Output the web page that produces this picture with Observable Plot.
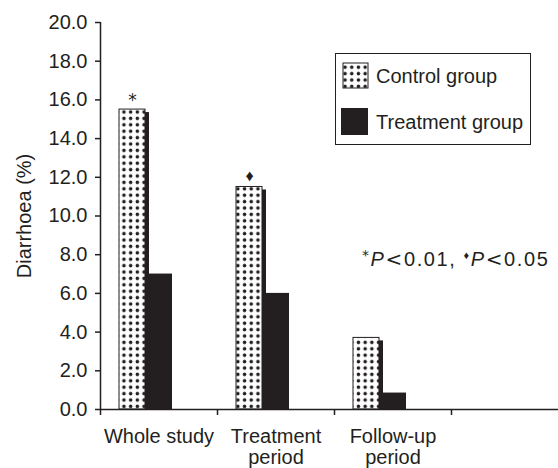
<!DOCTYPE html>
<html>
<head>
<meta charset="utf-8">
<script src="https://cdn.jsdelivr.net/npm/d3@7"></script>
<script src="https://cdn.jsdelivr.net/npm/@observablehq/plot@0.6"></script>
<style>
  html, body { margin: 0; padding: 0; background: #fff; }
  svg { display: block; }
</style>
</head>
<body>
<div id="chart"></div>
<script>
const categories = ["Whole study", "Treatment period", "Follow-up period", "(empty)"];
const categoryLabels = ["Whole study", "Treatment\nperiod", "Follow-up\nperiod", ""];
const controlValues = [15.5, 11.5, 3.7];
const treatmentValues = [7.0, 6.0, 0.85];
const seriesNames = ["Control group", "Treatment group"];
const yTicks = [0, 2, 4, 6, 8, 10, 12, 14, 16, 18, 20];
const significance = [
  {category: "Whole study", value: 15.5, mark: "*"},
  {category: "Treatment period", value: 11.5, mark: "\u2666"}
];
const yLabel = "Diarrhoea (%)";

const INK = "#231f20";
const FONT = "Liberation Sans, Arial, Helvetica, sans-serif";
const FS = 20;

const control = controlValues.map((v, i) => ({category: categories[i], value: v}));
const treatment = treatmentValues.map((v, i) => ({category: categories[i], value: v}));
const labelOf = new Map(categories.map((c, i) => [c, categoryLabels[i]]));

const W = 558, H = 468;
const mL = 100, mT = 22, mB = 59;
const band = 117;
const mR = W - (mL + band * categories.length);

const ctrlInset = {insetLeft: 19, insetRight: band - 19 - 26};
const trtInset = {insetLeft: 45, insetRight: band - 45 - 27};

const plot = Plot.plot({
  width: W,
  height: H,
  marginLeft: mL,
  marginRight: mR,
  marginTop: mT,
  marginBottom: mB,
  style: {fontFamily: FONT, fontSize: FS + "px", color: INK, background: "white"},
  x: {type: "band", domain: categories, paddingInner: 0, paddingOuter: 0, axis: null},
  y: {domain: [0, 20], axis: null},
  marks: [
    Plot.barY(control, {x: "category", y1: 0, y2: "value", fill: INK, dx: 4, insetTop: 3, ...ctrlInset}),
    Plot.barY(treatment, {x: "category", y1: 0, y2: "value", fill: INK, ...trtInset}),
    Plot.barY(control, {x: "category", y1: 0, y2: "value", fill: "url(#dots)", stroke: INK, strokeWidth: 1, ...ctrlInset}),
    Plot.text(significance.filter(d => d.mark === "*"), {x: "category", y: "value", text: "mark", dx: 19 + 13 - band / 2, dy: -4, lineAnchor: "bottom", fontSize: 17, fill: INK, fontFamily: "DejaVu Sans"}),
    Plot.text(significance.filter(d => d.mark !== "*"), {x: "category", y: "value", text: "mark", dx: 19 + 13 - band / 2, dy: -6, lineAnchor: "bottom", fontSize: 16, fill: INK}),
    Plot.axisY({ticks: yTicks, tickFormat: d => d.toFixed(1), tickSize: 5, tickPadding: 8, fontSize: FS, stroke: INK, fill: INK, strokeWidth: 1.5, label: null}),
    Plot.ruleX([categories[0]], {x: d => d, y1: 0, y2: 20, dx: -band / 2, stroke: INK, strokeWidth: 1.5}),
    Plot.ruleY([0], {stroke: INK, strokeWidth: 1.5}),
    Plot.axisX({tickSize: 6, tickFormat: () => "", dx: -band / 2, stroke: INK, strokeWidth: 1.5, label: null}),
    Plot.axisX({tickSize: 0, tickPadding: 19, tickFormat: d => labelOf.get(d), lineHeight: 1.03, fontSize: FS, fill: INK, label: null}),
    Plot.text([yLabel], {frameAnchor: "left", text: d => d, dx: -76, rotate: -90, textAnchor: "middle", fontSize: FS, fill: INK})
  ]
});

const svg = d3.select(plot);
const defs = svg.insert("defs", ":first-child");
const pat = defs.append("pattern")
  .attr("id", "dots")
  .attr("patternUnits", "userSpaceOnUse")
  .attr("width", 6.7).attr("height", 6.4);
pat.append("rect").attr("width", 6.7).attr("height", 6.4).attr("fill", "white");
pat.append("circle").attr("cx", 3.35).attr("cy", 3.2).attr("r", 1.75).attr("fill", INK);

// legend
const lg = svg.append("g").attr("font-family", FONT).attr("font-size", FS).attr("fill", INK).attr("text-anchor", "start");
lg.append("rect").attr("x", 335.5).attr("y", 53.5).attr("width", 195).attr("height", 91)
  .attr("fill", "white").attr("stroke", INK).attr("stroke-width", 1);
lg.append("rect").attr("x", 343).attr("y", 63).attr("width", 25).attr("height", 25)
  .attr("fill", "url(#dots)").attr("stroke", INK).attr("stroke-width", 1);
lg.append("rect").attr("x", 341).attr("y", 108).attr("width", 27).attr("height", 27).attr("fill", INK);
lg.append("text").attr("x", 376).attr("y", 83).text(seriesNames[0]);
lg.append("text").attr("x", 376).attr("y", 129).text(seriesNames[1]);

// p-value note
const note = svg.append("text").attr("x", 362).attr("y", 266).attr("text-anchor", "start")
  .attr("font-family", FONT).attr("font-size", FS).attr("fill", INK).attr("letter-spacing", 1.6);
note.append("tspan").attr("font-size", 14).attr("font-family", "DejaVu Sans").attr("dy", -6).text("*");
note.append("tspan").attr("font-style", "italic").attr("dy", 6).text("P");
note.append("tspan").attr("font-family", "DejaVu Sans").text("<");
note.append("tspan").text("0.01, ");
note.append("tspan").attr("font-size", 11).attr("dy", -7).text("\u2666");
note.append("tspan").attr("font-style", "italic").attr("dy", 7).text("P");
note.append("tspan").attr("font-family", "DejaVu Sans").text("<");
note.append("tspan").text("0.05");

document.getElementById("chart").appendChild(plot);
</script>
</body>
</html>
